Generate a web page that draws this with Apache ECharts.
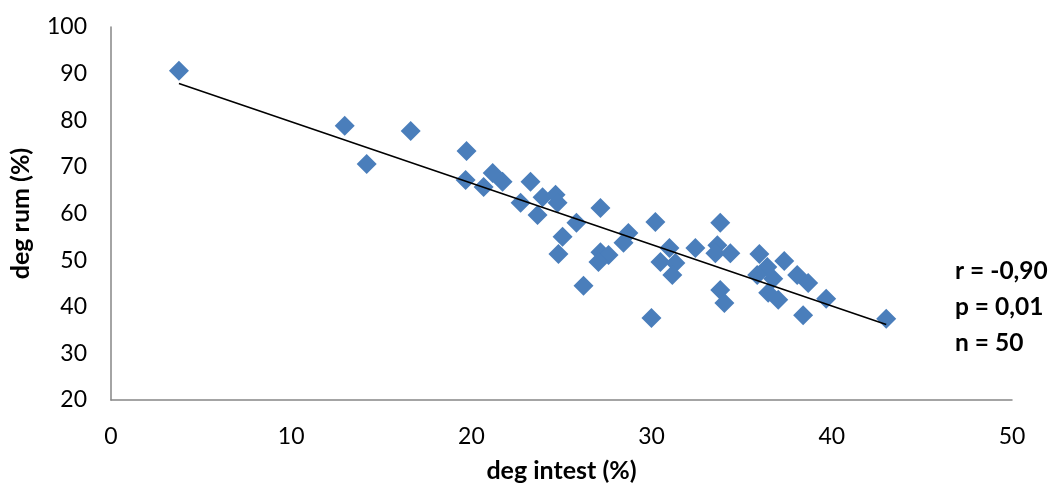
<!DOCTYPE html>
<html>
<head>
<meta charset="utf-8">
<script src="https://cdn.jsdelivr.net/npm/echarts@6/dist/echarts.min.js"></script>
<style>html,body{margin:0;padding:0;background:#fff;}#c{width:1055px;height:488px;}</style>
</head>
<body>
<div id="c"></div>
<script>
const xValues = [3.77,12.97,14.19,16.63,19.73,19.68,20.68,21.18,21.73,23.28,22.73,23.95,24.67,24.78,23.67,27.16,25.83,25.06,24.83,26.22,28.71,28.44,27.16,27.61,27.05,30.21,30.99,30.49,31.32,31.15,29.99,32.43,33.81,33.65,33.54,34.37,33.81,34.04,35.98,36.42,35.86,36.75,36.47,37.03,37.36,38.08,38.69,39.69,38.41,43.02];
const yValues = [90.6,78.8,70.6,77.7,73.4,67.2,65.7,68.7,66.8,66.8,62.3,63.5,64.0,62.3,59.7,61.2,58.0,55.0,51.3,44.5,55.8,53.7,51.7,51.1,49.6,58.2,52.6,49.6,49.4,46.8,37.6,52.6,58.0,53.2,51.5,51.5,43.6,40.8,51.3,48.5,46.8,46.0,43.0,41.5,49.8,46.8,45.1,41.7,38.2,37.4];
const xTicks = [0,10,20,30,40,50];
const yTicks = [20,30,40,50,60,70,80,90,100];
const statsLines = ['r = -0,90','p = 0,01','n = 50'];
const xTitle = 'deg intest (%)';
const yTitle = 'deg rum (%)';

const points = xValues.map((x,i)=>[x,yValues[i]]);
// least-squares trend line over the data range
const n = xValues.length;
const mx = xValues.reduce((a,b)=>a+b,0)/n;
const my = yValues.reduce((a,b)=>a+b,0)/n;
let sxy=0,sxx=0;
for(let i=0;i<n;i++){sxy+=(xValues[i]-mx)*(yValues[i]-my);sxx+=(xValues[i]-mx)**2;}
const slope=sxy/sxx, intercept=my-slope*mx;
const xmin=Math.min(...xValues), xmax=Math.max(...xValues);
const trend=[[xmin,intercept+slope*xmin],[xmax,intercept+slope*xmax]];

const font='Lato, "Liberation Sans", sans-serif';
const chart = echarts.init(document.getElementById('c'));
chart.setOption({
  animation:false,
  grid:{left:110,right:43,top:27,bottom:88,containLabel:false},
  xAxis:{type:'value',min:xTicks[0],max:xTicks[xTicks.length-1],interval:10,
    name:xTitle,nameLocation:'middle',nameGap:58,
    nameTextStyle:{fontFamily:font,fontSize:25,fontWeight:'bold',color:'#000'},
    axisLine:{show:true,lineStyle:{color:'#868686',width:1.5}},
    axisTick:{show:false},splitLine:{show:false},
    axisLabel:{fontFamily:font,fontSize:23,color:'#000',margin:25}},
  yAxis:{type:'value',min:yTicks[0],max:yTicks[yTicks.length-1],interval:10,
    name:yTitle,nameLocation:'middle',nameGap:78,
    nameTextStyle:{fontFamily:font,fontSize:25,fontWeight:'bold',color:'#000'},
    axisLine:{show:true,lineStyle:{color:'#868686',width:1.5}},
    axisTick:{show:false},splitLine:{show:false},
    axisLabel:{fontFamily:font,fontSize:23,color:'#000',margin:24}},
  graphic:[{type:'text',left:955,top:253,style:{text:statsLines.join('\n'),font:'bold 24.5px '+font,fill:'#000',lineHeight:36}}],
  series:[
    {type:'scatter',data:points,symbol:'diamond',symbolSize:20,itemStyle:{color:'#4A7EBB',opacity:1},z:2},
    {type:'line',data:trend,symbol:'none',lineStyle:{color:'#000',width:1.6},z:3,silent:true}
  ]
});
</script>
</body>
</html>
